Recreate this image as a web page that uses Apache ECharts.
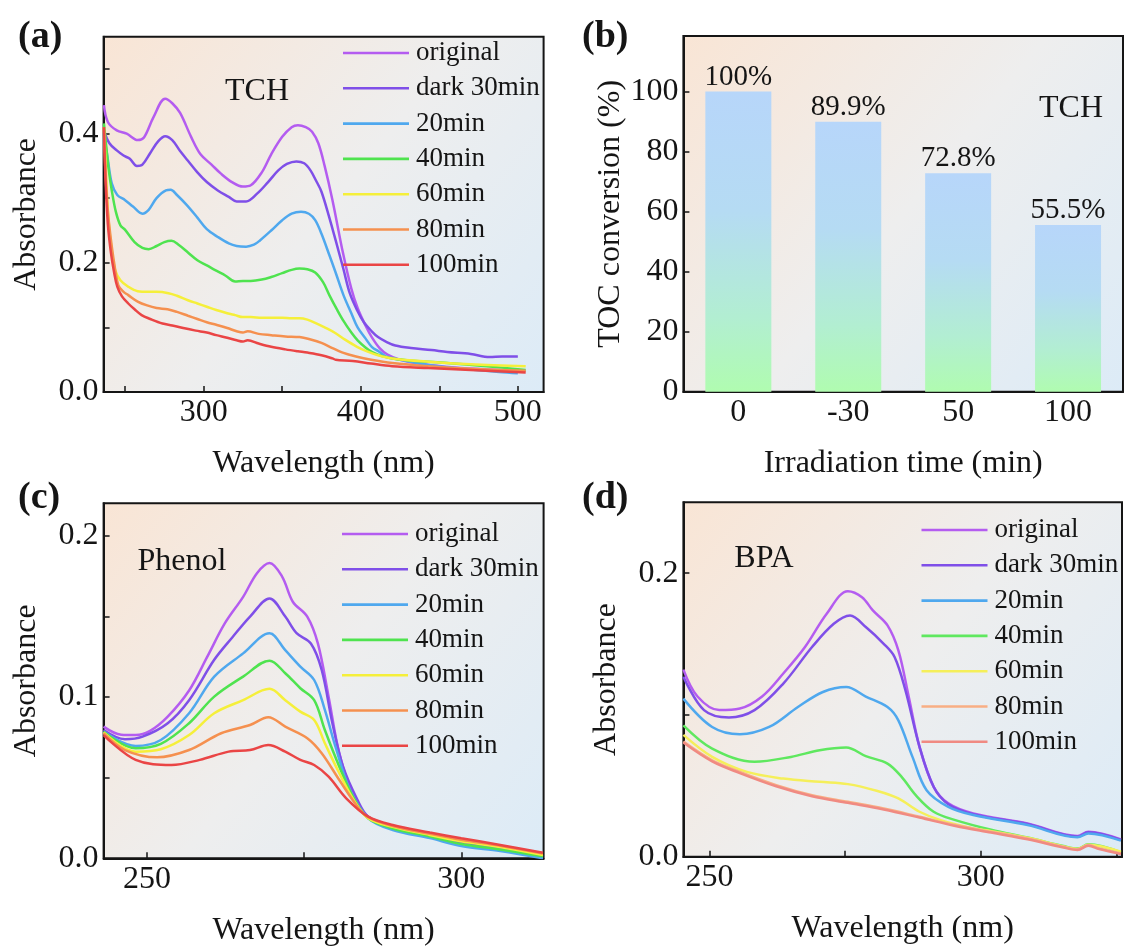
<!DOCTYPE html>
<html>
<head>
<meta charset="utf-8">
<script src="https://cdn.jsdelivr.net/npm/echarts@6/dist/echarts.min.js"></script>
<style>
html,body{margin:0;padding:0;background:#fff;}
#c{width:1124px;height:947px;}
</style>
</head>
<body>
<div id="c"></div>
<script>
// ---------- data ----------
const seriesNames = ['original','dark 30min','20min','40min','60min','80min','100min'];
const colorsACD = ['#b45cf0','#7f4fe8','#4fa8ee','#4fe34f','#f5ef3a','#f5904f','#ea4545'];
const colorsD = ['#b45cf0','#7f4fe8','#4fa8ee','#5fe85f','#f5ef5a','#f8ae84','#f08a82'];

// (a) TCH absorbance  [wavelength nm, absorbance]
const tchOriginal = [[236.5,0.444],[239,0.418],[244.7,0.405],[251,0.400],[258,0.390],[262,0.394],[268,0.425],[275.5,0.454],[280,0.447],[285,0.432],[292,0.395],[298,0.368],[305,0.352],[311,0.338],[318,0.325],[325,0.318],[330,0.320],[337,0.340],[343,0.368],[350,0.395],[356,0.410],[360,0.413],[365,0.410],[369,0.403],[373,0.385],[377,0.350],[382,0.297],[388.7,0.215],[394,0.160],[398,0.130],[403,0.103],[407,0.085],[412,0.068],[417,0.058],[425,0.050],[440,0.043],[460,0.038],[480,0.035],[500,0.033]];
const tchDark30 = [[236.5,0.405],[240,0.385],[244.7,0.374],[249,0.366],[253,0.361],[257.5,0.350],[261,0.352],[266,0.370],[271,0.388],[275.5,0.396],[280,0.390],[285,0.373],[290,0.358],[296,0.340],[302,0.325],[309,0.312],[316,0.302],[321,0.295],[327,0.295],[334,0.307],[341,0.325],[347.5,0.343],[353,0.353],[359,0.357],[364,0.354],[368,0.343],[372,0.325],[375,0.310],[380,0.270],[384,0.235],[389,0.190],[393,0.153],[398,0.125],[402,0.108],[407,0.094],[411,0.085],[416,0.078],[422,0.072],[432,0.068],[445,0.065],[455,0.062],[470,0.059],[482,0.054],[490,0.055],[500,0.055]];
const tch20 = [[236.5,0.400],[239,0.360],[241.5,0.323],[245,0.305],[250,0.297],[255,0.287],[261,0.276],[265,0.282],[270,0.300],[276,0.312],[279,0.313],[283,0.305],[289,0.290],[296,0.270],[302,0.252],[309,0.240],[316,0.230],[321,0.226],[327,0.225],[332,0.228],[336,0.235],[343,0.250],[350,0.266],[356,0.276],[362,0.279],[367,0.276],[371,0.266],[375,0.245],[380,0.212],[384,0.185],[389,0.150],[394,0.122],[398,0.100],[403,0.083],[407,0.070],[412,0.062],[416,0.055],[425,0.050],[443,0.042],[465,0.036],[488,0.031],[500,0.029]];
const tch40 = [[236.5,0.416],[238,0.380],[239.5,0.345],[241.5,0.312],[244,0.280],[247,0.258],[250,0.251],[256,0.232],[261,0.223],[265,0.221],[270,0.226],[275,0.232],[279.5,0.234],[284,0.228],[290,0.216],[296,0.204],[302,0.196],[307,0.189],[314,0.180],[320,0.171],[325,0.172],[330,0.172],[337,0.174],[343,0.178],[350,0.184],[356,0.189],[361,0.191],[366,0.190],[371,0.185],[376,0.170],[380,0.150],[385,0.127],[389,0.110],[394,0.092],[398,0.080],[403,0.069],[407,0.062],[413,0.056],[420,0.052],[435,0.048],[455,0.045],[480,0.040],[505,0.034]];
const tch60 = [[236.5,0.410],[237.5,0.360],[238.6,0.297],[240,0.250],[241.5,0.220],[243.6,0.189],[247,0.173],[252,0.163],[258,0.156],[264.8,0.155],[270,0.155],[277.6,0.153],[283,0.149],[290,0.142],[296,0.137],[302,0.132],[308,0.127],[315,0.122],[320,0.119],[325,0.116],[330,0.116],[337,0.115],[343,0.115],[350,0.115],[356,0.114],[361,0.114],[366,0.112],[371,0.107],[377,0.100],[384,0.091],[390,0.081],[397.6,0.070],[404,0.063],[411,0.057],[420,0.052],[443,0.047],[470,0.043],[505,0.040]];
const tch80 = [[236.5,0.410],[237.5,0.340],[239,0.280],[241,0.235],[243,0.200],[245.7,0.165],[249,0.155],[252,0.150],[258,0.140],[264,0.134],[270,0.130],[277,0.128],[283,0.124],[290,0.118],[296,0.113],[302,0.108],[308,0.104],[315,0.099],[321,0.094],[325,0.092],[328,0.094],[335,0.090],[343,0.088],[352,0.086],[361,0.085],[367,0.082],[375,0.076],[382,0.068],[388.5,0.061],[397,0.055],[406.6,0.050],[420,0.045],[443,0.040],[470,0.036],[505,0.033]];
const tch100 = [[236.5,0.410],[237.5,0.330],[239,0.260],[241,0.215],[243,0.185],[245,0.163],[248,0.148],[252,0.137],[256,0.128],[260.5,0.119],[266,0.113],[273.8,0.106],[280,0.103],[287,0.099],[295,0.095],[302,0.092],[308,0.088],[315,0.084],[321,0.080],[325,0.078],[328,0.080],[335,0.075],[343,0.070],[352,0.066],[360,0.063],[366,0.061],[375,0.057],[382,0.052],[384,0.050],[395,0.048],[406.6,0.044],[420,0.040],[443,0.037],[470,0.034],[505,0.030]];

// (b) TOC conversion
const tocCategories = ['0','-30','50','100'];
const tocValues = [100, 89.9, 72.8, 55.5];

// (c) Phenol absorbance
const phOriginal = [[243.1,0.0816],[245.9,0.0766],[248.2,0.0764],[250.5,0.0790],[253.3,0.0878],[256.7,0.104],[259.6,0.125],[262.4,0.1457],[265.3,0.162],[267.5,0.1767],[269.5,0.183],[271.5,0.1746],[273.2,0.159],[275.5,0.1498],[277.2,0.133],[278.9,0.100],[280.6,0.065],[282.9,0.038],[285.2,0.0258],[289.1,0.0196],[295,0.0145],[300,0.0097],[306.2,0.0062],[313,0.001]];
const phDark30 = [[243.1,0.0795],[246.5,0.0738],[249.3,0.0754],[253.3,0.0837],[256.7,0.098],[260.7,0.123],[263.6,0.137],[266.4,0.1498],[269.5,0.161],[272,0.1498],[273.8,0.1395],[276.1,0.133],[277.8,0.1167],[279.5,0.0837],[281.2,0.0568],[283.5,0.0361],[285.2,0.0258],[289.1,0.019],[295,0.014],[300,0.0095],[306.2,0.006],[313,0.0005]];
const ph20 = [[243.1,0.0785],[248.2,0.0696],[252.2,0.0733],[256.7,0.0899],[260.7,0.1126],[265.3,0.127],[269.5,0.1395],[272,0.129],[274.4,0.1188],[276.6,0.1105],[278.3,0.092],[280,0.069],[282.3,0.0423],[285.2,0.0248],[289.1,0.0175],[295,0.0125],[300,0.0076],[306.2,0.0045],[313,0.0]];
const ph40 = [[243.1,0.0785],[248.2,0.0682],[252.2,0.0709],[256.7,0.0837],[260.7,0.1002],[265.3,0.1126],[269.5,0.1225],[272,0.1147],[274.4,0.1054],[276.6,0.098],[278.3,0.0795],[280.6,0.0568],[282.9,0.0372],[285.2,0.0248],[289.1,0.0185],[295,0.0135],[300,0.0088],[306.2,0.0055],[313,0.0012]];
const ph60 = [[243.1,0.078],[248.2,0.0661],[252.2,0.0676],[256.7,0.0764],[260.7,0.0899],[265.3,0.098],[269.5,0.105],[272,0.098],[274.4,0.0909],[276.6,0.0857],[278.3,0.0713],[280.6,0.0527],[282.9,0.036],[285.2,0.0248],[289.1,0.0195],[295,0.0145],[300,0.0105],[306.2,0.007],[313,0.002]];
const ph80 = [[243.1,0.0775],[246.5,0.0671],[251.6,0.0626],[256.7,0.0671],[261.8,0.0775],[266.4,0.0826],[269.3,0.0874],[272,0.0816],[275.5,0.0744],[277.8,0.0651],[280.6,0.0485],[283.5,0.032],[285.2,0.0255],[289.1,0.0200],[295,0.0152],[300,0.0115],[306.2,0.0078],[313,0.003]];
const ph100 = [[243.1,0.0764],[248.2,0.061],[253.9,0.0578],[258.4,0.061],[263,0.0661],[266.4,0.0671],[269.3,0.0702],[272,0.0661],[274.4,0.061],[276.6,0.0578],[278.9,0.0506],[281.7,0.0372],[285.2,0.0258],[289.1,0.0206],[295,0.016],[300,0.0124],[306.2,0.0083],[313,0.0035]];

// (d) BPA absorbance
const bpaOriginal = [[245.2,0.132],[247.8,0.113],[251.8,0.1034],[255.6,0.1045],[259.7,0.113],[263.6,0.1292],[267.6,0.1479],[271.6,0.1714],[275.5,0.1873],[278.1,0.1831],[280.1,0.1737],[282.8,0.1632],[284.8,0.1455],[286.7,0.113],[288.7,0.0775],[291.3,0.0493],[294,0.0376],[298.6,0.0305],[308.6,0.0235],[317.8,0.0146],[319.8,0.0176],[325.8,0.0122]];
const bpaDark30 = [[245.2,0.127],[249,0.1034],[253.6,0.0982],[258.3,0.1034],[263.6,0.1221],[268.9,0.1479],[272.9,0.1643],[275.9,0.1702],[278.8,0.162],[282.1,0.1502],[284.1,0.1409],[286.1,0.1174],[288.7,0.0775],[291.3,0.0493],[294,0.037],[298.6,0.030],[308.6,0.023],[317.8,0.0142],[319.8,0.0172],[325.8,0.0118]];
const bpa20 = [[245.2,0.1115],[250.5,0.0915],[255.6,0.0864],[261,0.0915],[266.3,0.1056],[270.9,0.1162],[275.2,0.1197],[278.8,0.113],[282.8,0.1056],[284.8,0.0962],[287.4,0.0704],[290,0.0469],[294,0.0352],[298.6,0.0294],[308.6,0.0223],[317.8,0.0137],[319.8,0.0164],[325.8,0.0113]];
const bpa40 = [[245.2,0.0927],[250.5,0.0763],[258.3,0.067],[265,0.0704],[270.3,0.0751],[275.2,0.077],[278.8,0.0709],[282.8,0.0657],[285.4,0.0563],[288,0.0434],[291.3,0.0317],[295.3,0.0258],[301.9,0.019],[308.6,0.0135],[315.2,0.0075],[317.8,0.0057],[319.8,0.0087],[325.8,0.003]];
const bpa60 = [[245.2,0.0859],[250.5,0.0704],[256.9,0.0598],[263.6,0.0551],[270.3,0.0528],[275.5,0.0512],[280.8,0.0465],[284.8,0.0411],[288.7,0.0317],[292.6,0.0258],[298.6,0.020],[301.9,0.018],[308.6,0.0133],[315.2,0.0073],[317.8,0.0055],[319.8,0.0085],[325.8,0.0035]];
const bpa80 = [[245.2,0.0812],[250.5,0.068],[255.6,0.0598],[262.3,0.0505],[268.9,0.0434],[275.5,0.0387],[282.1,0.034],[288.7,0.0282],[295.3,0.0223],[301.9,0.0176],[308.6,0.0129],[315.2,0.007],[317.8,0.0052],[319.8,0.0082],[321.8,0.0059],[325.8,0.0023]];
const bpa100 = [[245.2,0.0805],[250.5,0.0672],[255.6,0.059],[262.3,0.0497],[268.9,0.0427],[275.5,0.038],[282.1,0.0333],[288.7,0.0276],[295.3,0.0217],[301.9,0.017],[308.6,0.0123],[315.2,0.0065],[317.8,0.0047],[319.8,0.0077],[321.8,0.0054],[325.8,0.0018]];

// tick values
const ticksAxLabels = [300,400,500];
const ticksAxMarks = [250,300,350,400,450,500];
const ticksAyLabels = [0,0.2,0.4];
const ticksAyMarks = [0,0.1,0.2,0.3,0.4,0.5];
const ticksByLabels = [0,20,40,60,80,100];
const ticksCxLabels = [250,300];
const ticksCxMarks = [250,275,300];
const ticksCyLabels = [0,0.1,0.2];
const ticksCyMarks = [0,0.05,0.1,0.15,0.2];
const ticksDxLabels = [250,300];
const ticksDxMarks = [250,275,300,325];
const ticksDyLabels = [0,0.2];
const ticksDyMarks = [0,0.1,0.2];

// ---------- chart ----------
const FONT = '"Liberation Serif","Times New Roman",serif';
const INK = '#151515';
const chart = echarts.init(document.getElementById('c'), null, {renderer:'canvas'});

function bg(){
  return new echarts.graphic.LinearGradient(0,0,1,1,[
    {offset:0,color:'#f9e5d5'},
    {offset:0.5,color:'#eeeeee'},
    {offset:1,color:'#dcebf7'}
  ]);
}
function gridCfg(l,t,w,h){
  return {left:l,top:t,width:w,height:h,show:true,backgroundColor:bg(),
    borderColor:INK,borderWidth:2,containLabel:false,outerBoundsMode:'none'};
}
function xVal(idx,min,max,labels,marks){
  return {type:'value',gridIndex:idx,min:min,max:max,
    name:'Wavelength (nm)',nameLocation:'middle',nameGap:56,
    nameTextStyle:{fontFamily:FONT,fontSize:32,color:INK},
    axisLine:{show:true,lineStyle:{color:INK,width:2}},
    axisTick:{show:true,inside:true,length:6,lineStyle:{color:INK,width:1.5},customValues:marks},
    axisLabel:{fontFamily:FONT,fontSize:32,color:INK,margin:5,customValues:labels},
    splitLine:{show:false}};
}
function yVal(idx,min,max,labels,marks,name,gap,dec){
  return {type:'value',gridIndex:idx,min:min,max:max,
    name:name,nameLocation:'middle',nameGap:gap,
    nameTextStyle:{fontFamily:FONT,fontSize:32,color:INK},
    axisLine:{show:true,lineStyle:{color:INK,width:2}},
    axisTick:{show:true,inside:true,length:6,lineStyle:{color:INK,width:1.5},customValues:marks},
    axisLabel:{fontFamily:FONT,fontSize:32,color:INK,margin:5,customValues:labels,
      formatter:function(v){return dec?Number(v).toFixed(dec):String(v);}},
    splitLine:{show:false}};
}
function lineSeries(name,data,color,xi,yi){
  return {type:'line',name:name,xAxisIndex:xi,yAxisIndex:yi,data:data,
    showSymbol:false,symbol:'none',smooth:0.35,
    lineStyle:{color:color,width:2.5},itemStyle:{color:color},
    emphasis:{disabled:true},animation:false};
}
function legendCfg(left,top,colors){
  return {orient:'vertical',left:left,top:top,itemWidth:66,itemHeight:14,itemGap:7.3,
    padding:0,
    textStyle:{fontFamily:FONT,fontSize:27,color:INK,lineHeight:28,padding:[0,0,0,2]},
    data:seriesNames.map(function(n,i){return {name:n,icon:'path://M0,0L66,0L66,2.6L0,2.6Z',itemStyle:{color:colors[i]},lineStyle:{color:colors[i]}};}),
    selectedMode:false};
}

const tchSets = [tchOriginal,tchDark30,tch20,tch40,tch60,tch80,tch100];
const phSets = [phOriginal,phDark30,ph20,ph40,ph60,ph80,ph100];
const bpaSets = [bpaOriginal,bpaDark30,bpa20,bpa40,bpa60,bpa80,bpa100];

const series = [];
tchSets.forEach(function(d,i){series.push(lineSeries(seriesNames[i],d,colorsACD[i],0,0));});
series.push({type:'bar',xAxisIndex:1,yAxisIndex:1,data:tocValues,barWidth:66,
  itemStyle:{color:new echarts.graphic.LinearGradient(0,0,0,1,[
    {offset:0,color:'#b7d6fa'},{offset:0.4,color:'#b5dbf3'},{offset:0.75,color:'#b2eed2'},{offset:1,color:'#b0fcb0'}])},
  label:{show:true,position:'top',distance:0,formatter:'{c}%',fontFamily:FONT,fontSize:29,color:INK},
  emphasis:{disabled:true},animation:false});
phSets.forEach(function(d,i){series.push(lineSeries(seriesNames[i],d,colorsACD[i],2,2));});
bpaSets.forEach(function(d,i){series.push(lineSeries(seriesNames[i],d,colorsD[i],3,3));});

function txt(x,y,s,size,bold,align,va){
  return {type:'text',x:x,y:y,silent:true,z:100,
    style:{text:s,font:(bold?'bold ':'')+size+'px '+FONT,fill:INK,align:align||'left',verticalAlign:va||'top'}};
}

const option = {
  backgroundColor:'#ffffff',
  animation:false,
  grid:[gridCfg(103.6,36.7,440,355.3),gridCfg(683.4,36,439.6,355.7),gridCfg(103.6,503.3,440,355),gridCfg(683.4,502.3,438.6,354.4)],
  xAxis:[
    xVal(0,236.3,516.4,ticksAxLabels,ticksAxMarks),
    {type:'category',gridIndex:1,data:tocCategories,
      name:'Irradiation time (min)',nameLocation:'middle',nameGap:56,
      nameTextStyle:{fontFamily:FONT,fontSize:32,color:INK},
      axisLine:{show:true,lineStyle:{color:INK,width:2}},
      axisTick:{show:true,inside:true,length:6,alignWithLabel:true,lineStyle:{color:INK,width:1.5}},
      axisLabel:{fontFamily:FONT,fontSize:32,color:INK,margin:5},splitLine:{show:false}},
    xVal(2,243.1,313.1,ticksCxLabels,ticksCxMarks),
    xVal(3,245.2,326,ticksDxLabels,ticksDxMarks)
  ],
  yAxis:[
    yVal(0,0,0.55,ticksAyLabels,ticksAyMarks,'Absorbance',61,1),
    yVal(1,0,118.5,ticksByLabels,ticksByLabels,'TOC conversion (%)',52,0),
    yVal(2,0,0.22,ticksCyLabels,ticksCyMarks,'Absorbance',61,1),
    yVal(3,0,0.25,ticksDyLabels,ticksDyMarks,'Absorbance',61,1)
  ],
  legend:[legendCfg(343,39,colorsACD),legendCfg(342,520,colorsACD),legendCfg(921.5,516,colorsD)],
  series:series,
  graphic:[
    txt(18,18,'(a)',38,true),
    txt(582,18,'(b)',38,true),
    txt(18,479,'(c)',38,true),
    txt(582,479,'(d)',38,true),
    txt(257,92,'TCH',32,false,'center','middle'),
    txt(1071,109,'TCH',32,false,'center','middle'),
    txt(182,562,'Phenol',32,false,'center','middle'),
    txt(764,559,'BPA',32,false,'center','middle')
  ]
};
chart.setOption(option);
</script>
</body>
</html>
